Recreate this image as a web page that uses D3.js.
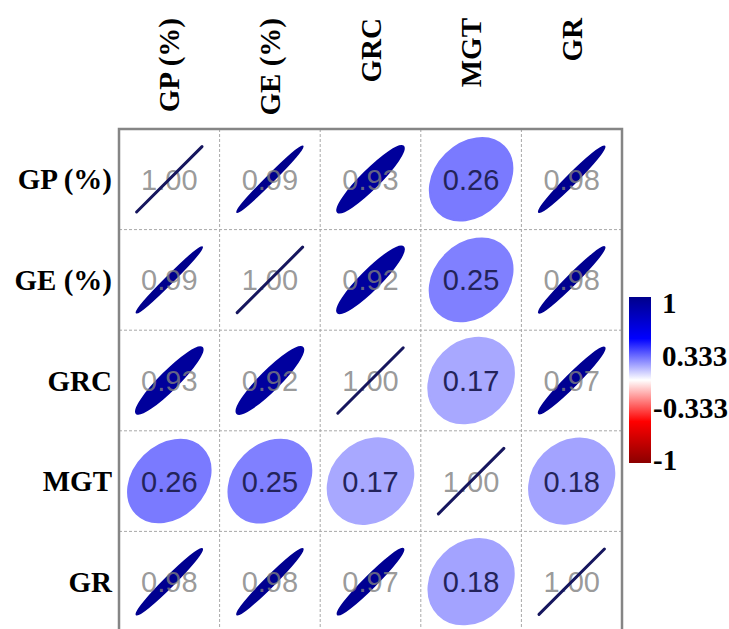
<!DOCTYPE html>
<html>
<head>
<meta charset="utf-8">
<script src="https://cdn.jsdelivr.net/npm/d3@7"></script>
<style>
    html, body { margin: 0; padding: 0; background: #fff; }
    svg { display: block; }
</style>
</head>
<body>
<div id="chart"></div>
<script>
const variables = ['GP (%)', 'GE (%)', 'GRC', 'MGT', 'GR'];

// correlation rows, same order as variables
const corrGP  = [1.00, 0.99, 0.93, 0.26, 0.98];
const corrGE  = [0.99, 1.00, 0.92, 0.25, 0.98];
const corrGRC = [0.93, 0.92, 1.00, 0.17, 0.97];
const corrMGT = [0.26, 0.25, 0.17, 1.00, 0.18];
const corrGR  = [0.98, 0.98, 0.97, 0.18, 1.00];

const legendTicks = [1, 0.333, -0.333, -1];

const drawCorrplot = function() {
    const width = 729;
    const height = 629;
    const gridLeft = 119;
    const gridTop = 129;
    const gridSize = 503;

    const matrix = [corrGP, corrGE, corrGRC, corrMGT, corrGR];
    const cells = [];
    matrix.forEach((row, i) => row.forEach((r, j) => {
        cells.push({ row: variables[i], col: variables[j], r: r });
    }));

    const x = d3.scaleBand()
        .domain(variables)
        .range([gridLeft, gridLeft + gridSize]);

    const y = d3.scaleBand()
        .domain(variables)
        .range([gridTop, gridTop + gridSize]);

    const color = d3.scaleLinear()
        .domain([-1, -0.5, 0, 0.5, 1])
        .range(['#8B0000', '#FF0000', '#FFFFFF', '#0000FF', '#00008B']);

    const svg = d3.create('svg')
        .attr('width', width)
        .attr('height', height)
        .attr('viewBox', [0, 0, width, height]);

    svg.append('rect')
        .attr('width', width)
        .attr('height', height)
        .attr('fill', '#fff');

    // dashed inner grid
    const inner = variables.slice(1);
    svg.append('g')
        .attr('stroke', '#a8a8a8')
        .attr('stroke-width', 1)
        .attr('stroke-dasharray', '3,2')
        .call(g => g.selectAll('.vl')
            .data(inner)
            .join('line')
            .attr('x1', d => x(d))
            .attr('x2', d => x(d))
            .attr('y1', gridTop)
            .attr('y2', gridTop + gridSize))
        .call(g => g.selectAll('.hl')
            .data(inner)
            .join('line')
            .attr('y1', d => y(d))
            .attr('y2', d => y(d))
            .attr('x1', gridLeft)
            .attr('x2', gridLeft + gridSize));

    const bw = x.bandwidth();
    const major = 0.46 * bw;
    const ellipsePath = function(r) {
        const a = major;
        const b = a * Math.sqrt((1 - Math.abs(r)) / (1 + Math.abs(r)));
        if (b < 0.01) return `M${-a},0L${a},0`;
        return `M${-a},0A${a},${b} 0 1,0 ${a},0A${a},${b} 0 1,0 ${-a},0Z`;
    };
    const isDiag = (d) => d.r >= 0.995;

    // coefficients (the diagonal lines are drawn over them)
    const addNumbers = function(data) {
        svg.append('g')
            .attr('font-family', '"Liberation Sans", Arial, sans-serif')
            .attr('font-size', 29)
            .attr('text-anchor', 'middle')
            .selectAll()
            .data(data)
            .join('text')
            .attr('x', d => x(d.col) + bw / 2)
            .attr('y', d => y(d.row) + bw / 2)
            .attr('dy', '0.36em')
            .attr('fill', d => d.r > 0.5 ? '#7f7f7f' : '#23235a')
            .attr('fill-opacity', d => d.r > 0.5 ? 0.8 : 1)
            .text(d => d.r.toFixed(2));
    };

    addNumbers(cells.filter(isDiag));

    // ellipses (path so that r = 1 still shows as a line)
    svg.append('g')
        .selectAll()
        .data(cells)
        .join('path')
        .attr('transform', d => `translate(${x(d.col) + bw / 2},${y(d.row) + bw / 2}) rotate(${d.r >= 0 ? -45 : 45})`)
        .attr('d', d => ellipsePath(d.r))
        .attr('fill', d => color(d.r))
        .attr('stroke', d => isDiag(d) ? '#16165e' : color(d.r))
        .attr('stroke-width', d => isDiag(d) ? 3 : 2)
        .attr('stroke-linecap', 'round');

    addNumbers(cells.filter(d => !isDiag(d)));

    // outer frame
    svg.append('rect')
        .attr('x', gridLeft)
        .attr('y', gridTop)
        .attr('width', gridSize)
        .attr('height', gridSize)
        .attr('fill', 'none')
        .attr('stroke', '#858585')
        .attr('stroke-width', 2.5);

    // row labels
    svg.append('g')
        .attr('font-family', '"Liberation Serif", "Times New Roman", serif')
        .attr('font-weight', 'bold')
        .attr('font-size', 29)
        .attr('text-anchor', 'end')
        .selectAll()
        .data(variables)
        .join('text')
        .attr('x', gridLeft - 7)
        .attr('y', d => y(d) + bw / 2)
        .attr('dy', '0.35em')
        .text(d => d);

    // column labels
    svg.append('g')
        .attr('font-family', '"Liberation Serif", "Times New Roman", serif')
        .attr('font-weight', 'bold')
        .attr('font-size', 29)
        .attr('text-anchor', 'end')
        .selectAll()
        .data(variables)
        .join('text')
        .attr('transform', d => `translate(${x(d) + bw / 2},18) rotate(-90)`)
        .attr('dy', '0.35em')
        .text(d => d);

    // colour legend
    const ly = d3.scaleLinear()
        .domain([-1, 1])
        .range([460, 303]);

    const grad = svg.append('defs').append('linearGradient')
        .attr('id', 'corrGrad')
        .attr('x1', 0).attr('x2', 0)
        .attr('y1', 1).attr('y2', 0);
    color.domain().forEach(v => {
        grad.append('stop')
            .attr('offset', (v + 1) / 2)
            .attr('stop-color', color(v));
    });

    svg.append('rect')
        .attr('x', 629)
        .attr('y', ly(1) - 6)
        .attr('width', 22)
        .attr('height', ly(-1) - ly(1) + 9)
        .attr('fill', 'url(#corrGrad)');

    svg.append('g')
        .attr('font-family', '"Liberation Serif", "Times New Roman", serif')
        .attr('font-weight', 'bold')
        .attr('font-size', 29)
        .selectAll()
        .data(legendTicks)
        .join('text')
        .attr('x', d => d < 0 ? 653 : 662)
        .attr('y', d => ly(d))
        .attr('dy', '0.35em')
        .text(d => d);

    chart.append(svg.node());
};

drawCorrplot();
</script>
</body>
</html>
